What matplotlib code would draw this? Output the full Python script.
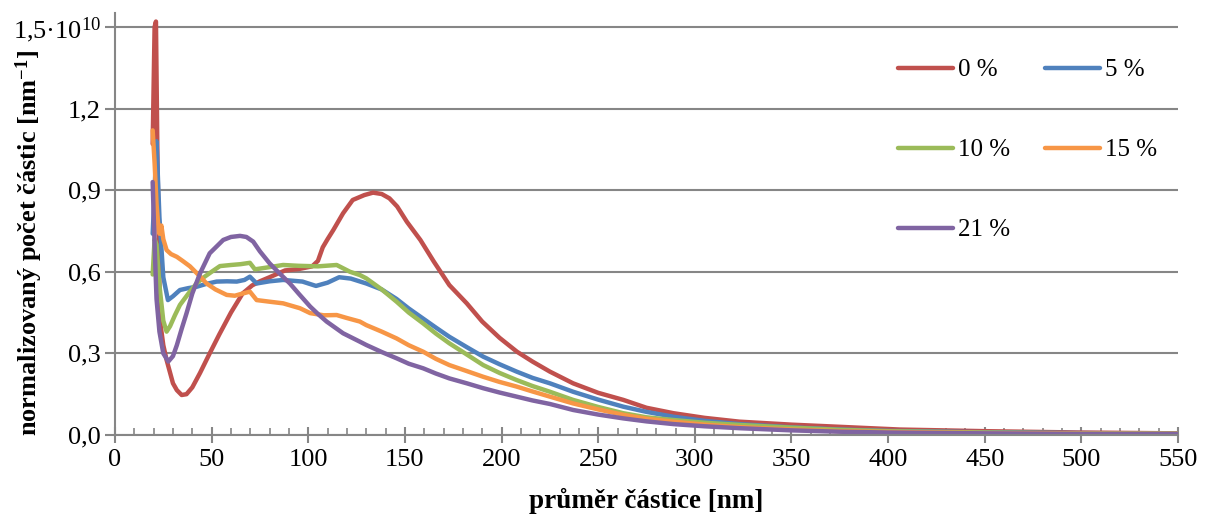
import matplotlib
matplotlib.use("Agg")
import matplotlib.pyplot as plt
from matplotlib.ticker import MultipleLocator, FuncFormatter

plt.rcParams['font.family'] = ['Liberation Serif', 'DejaVu Serif']
plt.rcParams['mathtext.fontset'] = 'custom'
plt.rcParams['mathtext.rm'] = 'Liberation Serif'
plt.rcParams['mathtext.it'] = 'Liberation Serif:italic'
plt.rcParams['mathtext.bf'] = 'Liberation Serif:bold'

# data (values in units of 1e10 nm^-1)
x_0 = [19.5, 20.5, 21.2, 22.0, 23.3, 25, 26.7, 30, 32, 34.5, 37, 40, 44, 49, 54, 60, 66, 71, 75, 80,
       88, 95, 102, 105, 107.5, 110, 113, 118, 123, 129, 133.5, 138, 142, 146, 151, 158, 165, 173, 182, 190,
       199, 208, 216, 225, 237, 250, 263, 275, 289, 305, 323, 350, 375, 406, 450, 500, 550]
y_0 = [1.07, 1.50, 1.52, 1.0, 0.42, 0.33, 0.276, 0.19, 0.165, 0.147, 0.15, 0.175, 0.228, 0.30, 0.37, 0.45, 0.52, 0.55, 0.565, 0.58,
       0.605, 0.61, 0.62, 0.64, 0.69, 0.72, 0.754, 0.815, 0.864, 0.882, 0.891, 0.886, 0.87, 0.84, 0.784, 0.717, 0.637, 0.551, 0.484, 0.417,
       0.357, 0.306, 0.27, 0.233, 0.19, 0.155, 0.129, 0.10, 0.08, 0.063, 0.049, 0.038, 0.03, 0.02, 0.014, 0.009, 0.006]

x_5 = [19.5, 20.5, 21.5, 23, 25, 27.4, 30, 33.6, 38, 42.3, 47, 52.6, 58, 63, 67, 69.8, 73.3, 80, 87, 97,
       104, 110, 116, 122, 130, 138, 145.7, 152, 159, 166, 173, 182, 190.5, 199, 207.8, 216, 225, 237, 250, 263,
       275, 289, 305, 323, 350, 375, 400, 450, 500, 550]
y_5 = [0.74, 0.90, 1.08, 0.80, 0.58, 0.496, 0.51, 0.533, 0.54, 0.545, 0.555, 0.564, 0.565, 0.564, 0.57, 0.582, 0.557, 0.565, 0.57, 0.564,
       0.548, 0.56, 0.58, 0.575, 0.557, 0.535, 0.50, 0.465, 0.43, 0.395, 0.361, 0.323, 0.288, 0.26, 0.233, 0.21, 0.19, 0.159, 0.13, 0.104,
       0.085, 0.067, 0.052, 0.04, 0.028, 0.02, 0.015, 0.01, 0.007, 0.005]

x_10 = [19.5, 20.5, 21.5, 23, 25, 26.7, 28.5, 31, 33.6, 38, 42.3, 46, 50, 54.3, 60, 65, 69.8, 72.4, 78, 87,
        95, 105, 114.7, 121.6, 126.7, 130, 138, 145.7, 152, 159.5, 166, 173, 182, 190.5, 199, 207.8, 216, 225, 237, 250,
        263, 275, 289, 305, 323, 350, 375, 400, 450, 500, 550]
y_10 = [0.59, 0.72, 0.70, 0.55, 0.42, 0.38, 0.40, 0.44, 0.478, 0.52, 0.558, 0.58, 0.60, 0.621, 0.625, 0.628, 0.633, 0.609, 0.615, 0.625,
        0.622, 0.62, 0.625, 0.60, 0.588, 0.576, 0.535, 0.49, 0.45, 0.41, 0.373, 0.337, 0.296, 0.257, 0.228, 0.202, 0.180, 0.159, 0.129, 0.103,
        0.08, 0.065, 0.055, 0.045, 0.037, 0.027, 0.019, 0.014, 0.009, 0.006, 0.004]

x_15 = [19.5, 20.5, 21.5, 22.5, 23, 24, 25, 26.7, 29, 32, 35, 38.8, 43, 47.4, 52, 57.8, 62, 66, 69.8, 73.3,
        80, 87, 95.7, 101, 108, 114.7, 120, 126.7, 130, 138, 145.7, 152, 159.5, 166, 173, 182, 190.5, 199, 207.8, 216,
        225, 237, 250, 263, 275, 289, 305, 323, 350, 375, 400, 450, 500, 550]
y_15 = [1.12, 1.0, 0.85, 0.76, 0.74, 0.77, 0.72, 0.68, 0.665, 0.655, 0.64, 0.62, 0.59, 0.557, 0.535, 0.515, 0.512, 0.52, 0.527, 0.496,
        0.49, 0.484, 0.466, 0.448, 0.44, 0.441, 0.43, 0.417, 0.404, 0.38, 0.355, 0.33, 0.306, 0.28, 0.257, 0.235, 0.214, 0.195, 0.178, 0.16,
        0.141, 0.116, 0.094, 0.074, 0.06, 0.049, 0.038, 0.029, 0.02, 0.014, 0.011, 0.007, 0.005, 0.004]

x_21 = [19.5, 20.5, 21.5, 23, 25, 27.6, 30, 32, 34.5, 37, 40, 44, 49, 56, 60, 64.7, 68, 71.5, 75, 80,
        85, 90.5, 95, 101, 105, 109.5, 118, 126.7, 130, 138, 145.7, 152, 159.5, 166, 173, 182, 190.5, 199, 207.8, 216,
        225, 237, 250, 263, 275, 289, 305, 323, 350, 375, 400, 450, 500, 550]
y_21 = [0.93, 0.70, 0.50, 0.38, 0.30, 0.27, 0.29, 0.33, 0.39, 0.447, 0.52, 0.594, 0.668, 0.717, 0.728, 0.732, 0.728, 0.711, 0.675, 0.631,
        0.595, 0.557, 0.52, 0.472, 0.445, 0.417, 0.374, 0.343, 0.331, 0.305, 0.282, 0.262, 0.245, 0.226, 0.208, 0.19, 0.172, 0.156, 0.141, 0.127,
        0.114, 0.092, 0.075, 0.061, 0.05, 0.04, 0.032, 0.025, 0.017, 0.012, 0.009, 0.006, 0.004, 0.003]

series = [
    ("0 %", x_0, y_0, "#C0504D"),
    ("5 %", x_5, y_5, "#4F81BD"),
    ("10 %", x_10, y_10, "#9BBB59"),
    ("15 %", x_15, y_15, "#F79646"),
    ("21 %", x_21, y_21, "#8064A2"),
]

fig = plt.figure(figsize=(12.09, 5.21), dpi=100)
ax = fig.add_axes([0.0951, 0.1651, 0.8793, 0.8092])

lines = {}
for label, xs, ys, c in series:
    lines[label], = ax.plot(xs, ys, color=c, lw=3.2, label=label,
                            solid_capstyle='round', solid_joinstyle='round')

ax.set_xlim(0, 550)
ax.set_ylim(0, 1.55)
ax.set_yticks([0, 0.3, 0.6, 0.9, 1.2, 1.5])
ax.xaxis.set_major_locator(MultipleLocator(50))
ax.xaxis.set_minor_locator(MultipleLocator(10))

def yfmt(v, pos):
    if abs(v - 1.5) < 1e-6:
        return '1,5·10$^{10}$'
    return f'{v:.1f}'.replace('.', ',')

ax.yaxis.set_major_formatter(FuncFormatter(yfmt))

grid_c = '#868686'
ax.grid(axis='y', color=grid_c, lw=1.5)
ax.set_axisbelow(True)
for s in ['top', 'right']:
    ax.spines[s].set_visible(False)
for s in ['left', 'bottom']:
    ax.spines[s].set_color(grid_c)
    ax.spines[s].set_linewidth(1.5)

ax.tick_params(axis='x', which='major', direction='inout', length=12, width=1.5, color=grid_c, labelsize=19, pad=4)
ax.tick_params(axis='x', which='minor', direction='in', length=5, width=1.2, color=grid_c)
ax.tick_params(axis='y', which='major', direction='out', length=7, width=1.5, color=grid_c, labelsize=19, pad=3)

ax.set_xlabel('průměr částice [nm]', fontsize=19.5, fontweight='bold')
ax.xaxis.set_label_coords(0.5, -0.125)
ax.set_ylabel('normalizovaný počet částic [nm$^{\\mathbf{-1}}$]', fontsize=19, fontweight='bold')
ax.yaxis.set_label_coords(-0.066, 0.455)

order = ["0 %", "10 %", "21 %", "5 %", "15 %"]
ax.legend([lines[k] for k in order], order, ncol=2, loc='upper left',
          bbox_to_anchor=(898 / 1209, 1 - 59 / 521), bbox_transform=fig.transFigure,
          frameon=False, fontsize=18, handlelength=2.2, handletextpad=0.2, columnspacing=1.4,
          labelspacing=2.3, borderpad=0, borderaxespad=0)

fig.savefig('out.png', dpi=100)
